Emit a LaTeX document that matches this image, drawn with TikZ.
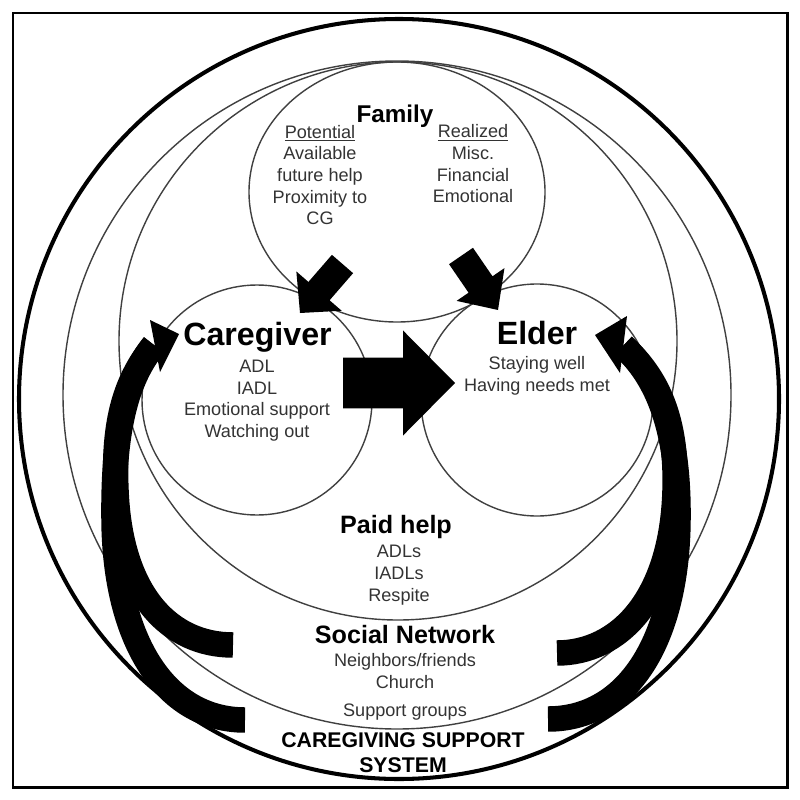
\documentclass[tikz,border=0pt]{standalone}
\usepackage{fontspec}
\setmainfont{Liberation Sans}
\usetikzlibrary{calc}
\newcommand\blockarr[6]{%
  \coordinate (#6-base) at ($(#2)!#5!(#1)$);
  \fill[black] ($(#1)!#3!90:(#2)$) -- ($(#6-base)!#3!90:(#2)$) -- ($(#6-base)!#4!90:(#2)$) -- (#2)
     -- ($(#6-base)!#4!-90:(#2)$) -- ($(#6-base)!#3!-90:(#2)$) -- ($(#1)!#3!-90:(#2)$) -- cycle;}
\begin{document}
\begin{tikzpicture}[x=0.02cm,y=-0.02cm,
  ring/.style={draw=black!75, line width=0.8pt},
  band/.style={line width=14.5pt, line cap=butt},
  lbl/.style={font=\fontsize{10.3pt}{12.35pt}\selectfont, text=black!80, align=center, inner sep=0pt, anchor=base},
  ttl/.style={font=\bfseries\fontsize{14.3pt}{16pt}\selectfont, inner sep=0pt, anchor=base},
  sys/.style={font=\bfseries\fontsize{12.1pt}{13.7pt}\selectfont, align=center, inner sep=0pt, anchor=base},
  big/.style={font=\bfseries\fontsize{18.3pt}{20pt}\selectfont, inner sep=0pt, anchor=base},
  fam/.style={font=\bfseries\fontsize{13.8pt}{16pt}\selectfont, inner sep=0pt, anchor=base}
]
\useasboundingbox (0,0) rectangle (800,800);
% frame and circles
\draw[line width=1.7pt] (13,13) rectangle (787,787);
\draw[line width=2.3pt] (399,399) circle [radius=380];
\draw[ring] (397,395) circle [radius=334];
\draw[ring] (398,341) circle [radius=279];
\draw[ring] (397,192) ellipse [x radius=148, y radius=130];
\draw[ring] (257,400) circle [radius=115];
\draw[ring] (537,400) circle [radius=116];
% straight block arrows
\coordinate (fcT) at (342.5,264); \coordinate (fcP) at (300,313);
\coordinate (feT) at (461,256);   \coordinate (feP) at (498,310);
\coordinate (ceT) at (343,383);   \coordinate (ceP) at (455,383);
\blockarr{fcT}{fcP}{7.97pt}{17.07pt}{16.5pt}{fc}
\blockarr{feT}{feP}{8.25pt}{16.5pt}{17.6pt}{fe}
\blockarr{ceT}{ceP}{14.5pt}{29.9pt}{29.6pt}{ce}
% curved arrows, left
\coordinate (lAt) at (233,645); \coordinate (lBt) at (245,720);
\coordinate (lH) at (154,345);
\coordinate (lh1) at (150,320); \coordinate (lh2) at (179,334); \coordinate (lh3) at (160,372);
\draw[band] (lAt) .. controls (170,645) and (120,595) .. (116,490) .. controls (113,420) and (126,380) .. (lH);
\draw[band] (lBt) .. controls (165,720) and (115,640) .. (114,520) .. controls (113,430) and (126,380) .. (lH);
\fill (lh1) -- (lh2) -- (lh3) -- cycle;
% curved arrows, right
\coordinate (rAt) at (557,653); \coordinate (rBt) at (548,719);
\coordinate (rH) at (623,346);
\coordinate (rh1) at (627,316); \coordinate (rh2) at (595,335); \coordinate (rh3) at (620,373);
\draw[band] (rAt) .. controls (618,653) and (672,600) .. (675,490) .. controls (677,420) and (658,378) .. (rH);
\draw[band] (rBt) .. controls (628,719) and (677,640) .. (678,520) .. controls (679,430) and (658,378) .. (rH);
\fill (rh1) -- (rh2) -- (rh3) -- cycle;
% texts (base anchor of a multi-line node = baseline of its last line)
\node[fam] (family) at (395,123) {Family};
\node[lbl] (potential) at (320,225) {\underline{Potential}\\Available\\future help\\Proximity to\\CG};
\node[lbl] (realized) at (473,203) {\underline{Realized}\\Misc.\\Financial\\Emotional};
\node[big] (caregiver) at (257.5,345) {Caregiver};
\node[lbl] (cgtasks) at (257,437.5) {ADL\\IADL\\Emotional support\\Watching out};
\node[big] (elder) at (537,344) {Elder};
\node[lbl] (eldertasks) at (537,391.5) {Staying well\\Having needs met};
\node[ttl] (paid) at (396,533) {Paid help};
\node[lbl] (paidtasks) at (399,601) {ADLs\\IADLs\\Respite};
\node[ttl] (social) at (405,643) {Social Network};
\node[lbl] (socialtasks) at (405,688) {Neighbors/friends\\Church};
\node[lbl] (support) at (405,716) {Support groups};
\node[sys] (system) at (403,772) {CAREGIVING SUPPORT\\SYSTEM};
\end{tikzpicture}
\end{document}
